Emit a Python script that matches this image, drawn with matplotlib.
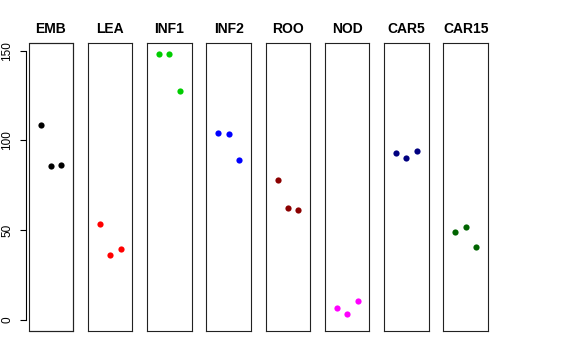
import matplotlib
matplotlib.use("Agg")
import matplotlib.pyplot as plt
from matplotlib.patches import Rectangle

plt.rcParams["font.family"] = ["Liberation Sans", "DejaVu Sans"]

# ── Data ─────────────────────────────────────────────────────────────────────
groups = ["EMB", "LEA", "INF1", "INF2", "ROO", "NOD", "CAR5", "CAR15"]
colors = ["#000000", "#FF0000", "#00CD00", "#0000FF",
          "#8B0000", "#FF00FF", "#000080", "#006400"]
reps = [1, 2, 3]
values = {
    "EMB":   [108.8, 85.9, 86.3],
    "LEA":   [53.5, 36.2, 39.4],
    "INF1":  [148.4, 148.4, 127.6],
    "INF2":  [104.2, 103.4, 89.0],
    "ROO":   [78.0, 62.4, 61.5],
    "NOD":   [6.7, 3.5, 10.6],
    "CAR5":  [92.9, 90.4, 94.3],
    "CAR15": [48.9, 52.0, 40.5],
}
yticks = [0, 50, 100, 150]

# ── Layout (pixels) ──────────────────────────────────────────────────────────
W, H = 576, 360
left0, step, pw = 28.7, 59.25, 44.5
bottom, ph = 29.3, 288.0

fig = plt.figure(figsize=(W / 100, H / 100), dpi=100)

for i, g in enumerate(groups):
    ax = fig.add_axes([(left0 + i * step) / W, bottom / H, pw / W, ph / H])
    ax.scatter(reps, values[g], s=20, color=colors[i], zorder=3, linewidths=0)
    ax.set_xlim(-0.16, 4.16)
    ax.set_ylim(-6.0, 154.5)
    ax.set_xticks([])
    for s in ax.spines.values():
        s.set_linewidth(0.8)
        s.set_color("#222")
    ax.text(0.5, 1 + 13.7 / ph, g, transform=ax.transAxes, ha="center",
            va="center", fontsize=10, fontweight="bold")
    if i == 0:
        ax.spines["left"].set_position(("outward", 2))
        ax.spines["left"].set_bounds(0, 150)
        ax.spines["left"].set_color("black")
        ax.add_patch(Rectangle((0, 0), 1, 1, transform=ax.transAxes, fill=False,
                               lw=0.8, edgecolor="#222", clip_on=False))
        ax.set_yticks(yticks)
        ax.set_yticklabels([str(t) for t in yticks], rotation=90, va="center",
                           fontsize=8.5)
        ax.tick_params(axis="y", length=4.3, width=0.8, pad=5)
    else:
        ax.set_yticks([])

fig.savefig("out.png", dpi=100)
